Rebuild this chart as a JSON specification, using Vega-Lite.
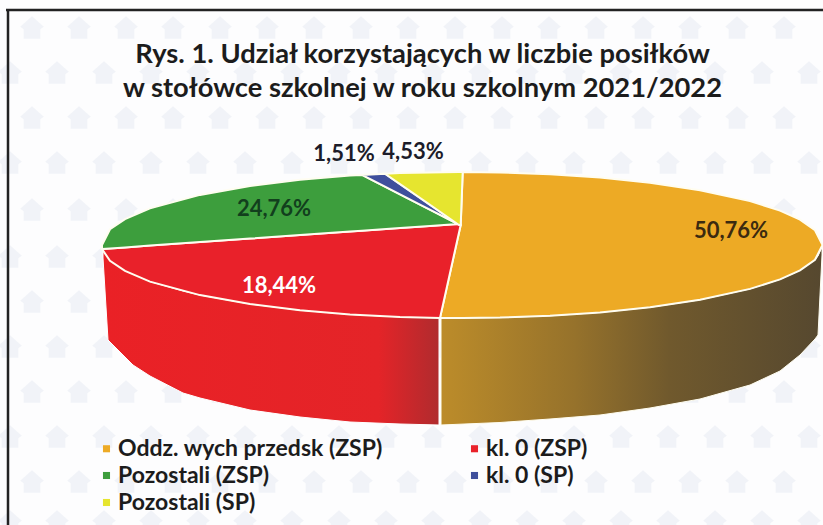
{"$schema":"https://vega.github.io/schema/vega-lite/v6.json","width":823,"height":525,"padding":0,"autosize":{"type":"none"},"background":"#fdfdfe","view":{"stroke":null},
"title":{"text":["Rys. 1. Udział korzystających w liczbie posiłków","w stołówce szkolnej w roku szkolnym 2021/2022"],"anchor":"middle","frame":"group","dx":11,"offset":-102,"font":"Lato","fontSize":27.3,"fontWeight":"bold","lineHeight":34,"color":"#1c1c1c"},
"encoding":{"x":{"field":"x","type":"quantitative","scale":{"domain":[0,823],"nice":false,"zero":false},"axis":null},"y":{"field":"y","type":"quantitative","scale":{"domain":[525,0],"nice":false,"zero":false},"axis":null}},
"layer":[
{"data":{"values":[{"y":28,"xs":[32,79,126,173,220,267,314,361,408,455,502,549,596,643,690,737,784]},{"y":73,"xs":[10,57,104,151,198,245,292,339,386,433,480,527,574,621,668,715,762,809]},{"y":118,"xs":[32,79,126,173,220,267,314,361,408,455,502,549,596,643,690,737,784]},{"y":163,"xs":[10,57,104,151,198,245,292,339,386,433,480,527,574,621,668,715,762,809]},{"y":210,"xs":[32,79,126,173,220,267,314,361,408,455,502,549,596,643,690,737,784]},{"y":257,"xs":[10,57,104,151,198,245,292,339,386,433,480,527,574,621,668,715,762,809]},{"y":302,"xs":[32,79,126,173,220,267,314,361,408,455,502,549,596,643,690,737,784]},{"y":347,"xs":[10,57,104,151,198,245,292,339,386,433,480,527,574,621,668,715,762,809]},{"y":392,"xs":[32,79,126,173,220,267,314,361,408,455,502,549,596,643,690,737,784]},{"y":437,"xs":[10,57,104,151,198,245,292,339,386,433,480,527,574,621,668,715,762,809]},{"y":482,"xs":[32,79,126,173,220,267,314,361,408,455,502,549,596,643,690,737,784]},{"y":522,"xs":[10,57,104,151,198,245,292,339,386,433,480,527,574,621,668,715,762,809]}]},
"transform":[{"flatten":["xs"],"as":["x"]}],
"mark":{"type":"point","filled":true,"shape":"M0,-1 L1,-0.1 L0.7,0.1 L0.7,0.9 L-0.7,0.9 L-0.7,0.1 L-1,-0.1 Z","size":560,"color":"#f0f2f7","opacity":0.9}},
{"data":{"values":[{"x":103,"y":250,"y2":258},{"x":108,"y":258,"y2":340},{"x":133,"y":274,"y2":365},{"x":150,"y":281.6,"y2":376},{"x":183,"y":291,"y2":393},{"x":200,"y":295.1,"y2":398},{"x":250,"y":304,"y2":410},{"x":300,"y":310.2,"y2":417},{"x":350,"y":314.4,"y2":422},{"x":400,"y":316.9,"y2":424},{"x":439,"y":317.9,"y2":425}]},
"mark":{"type":"area","stroke":"#ffffff","strokeWidth":1,"color":{"gradient":"linear","x1":0,"x2":1,"y1":0,"y2":0,"stops":[{"offset":0,"color":"#ea2126"},{"offset":0.82,"color":"#e42428"},{"offset":1,"color":"#b02b2e"}]}},
"encoding":{"y2":{"field":"y2"}}},
{"data":{"values":[{"x":441,"y":318,"y2":425},{"x":500,"y":317.6,"y2":422.5},{"x":550,"y":315.8,"y2":419},{"x":600,"y":312.4,"y2":415},{"x":650,"y":307.3,"y2":408},{"x":700,"y":299.8,"y2":399},{"x":750,"y":288.9,"y2":385},{"x":780,"y":279.4,"y2":371},{"x":800,"y":270.4,"y2":355},{"x":815,"y":259.8,"y2":339},{"x":818,"y":256,"y2":335},{"x":822,"y":247,"y2":255}]},
"mark":{"type":"area","stroke":"#fffdf0","strokeWidth":1,"color":{"gradient":"linear","x1":0,"x2":1,"y1":0,"y2":0,"stops":[{"offset":0,"color":"#bc8c2a"},{"offset":0.35,"color":"#96722b"},{"offset":0.6,"color":"#70592d"},{"offset":1,"color":"#56482f"}]}},
"encoding":{"y2":{"field":"y2"}}},
{"data":{"values":[
{"kategoria":"Oddz. wych przedsk (ZSP)","x":440,"y":317.9,"y2":317.9},{"kategoria":"Oddz. wych przedsk (ZSP)","x":450,"y":273,"y2":318},{"kategoria":"Oddz. wych przedsk (ZSP)","x":460.7,"y":225,"y2":318},{"kategoria":"Oddz. wych przedsk (ZSP)","x":462.7,"y":172,"y2":318},{"kategoria":"Oddz. wych przedsk (ZSP)","x":500,"y":172.4,"y2":317.6},{"kategoria":"Oddz. wych przedsk (ZSP)","x":550,"y":174.2,"y2":315.8},{"kategoria":"Oddz. wych przedsk (ZSP)","x":600,"y":177.6,"y2":312.4},{"kategoria":"Oddz. wych przedsk (ZSP)","x":650,"y":182.7,"y2":307.3},{"kategoria":"Oddz. wych przedsk (ZSP)","x":700,"y":190.2,"y2":299.8},{"kategoria":"Oddz. wych przedsk (ZSP)","x":750,"y":201.1,"y2":288.9},{"kategoria":"Oddz. wych przedsk (ZSP)","x":780,"y":210.6,"y2":279.4},{"kategoria":"Oddz. wych przedsk (ZSP)","x":800,"y":219.6,"y2":270.4},{"kategoria":"Oddz. wych przedsk (ZSP)","x":815,"y":230.2,"y2":259.8},{"kategoria":"Oddz. wych przedsk (ZSP)","x":822.5,"y":245,"y2":245},
{"kategoria":"kl. 0 (ZSP)","x":102,"y":249,"y2":249},{"kategoria":"kl. 0 (ZSP)","x":110,"y":248.4,"y2":260.8},{"kategoria":"kl. 0 (ZSP)","x":125,"y":247.4,"y2":270.9},{"kategoria":"kl. 0 (ZSP)","x":150,"y":245.6,"y2":281.6},{"kategoria":"kl. 0 (ZSP)","x":200,"y":242.1,"y2":295.1},{"kategoria":"kl. 0 (ZSP)","x":250,"y":238.6,"y2":304},{"kategoria":"kl. 0 (ZSP)","x":300,"y":235.1,"y2":310.2},{"kategoria":"kl. 0 (ZSP)","x":350,"y":231.6,"y2":314.4},{"kategoria":"kl. 0 (ZSP)","x":400,"y":228.1,"y2":316.9},{"kategoria":"kl. 0 (ZSP)","x":440,"y":225.3,"y2":317.9},{"kategoria":"kl. 0 (ZSP)","x":450,"y":224.6,"y2":273},{"kategoria":"kl. 0 (ZSP)","x":458,"y":224,"y2":237},{"kategoria":"kl. 0 (ZSP)","x":460.7,"y":225,"y2":225},
{"kategoria":"Pozostali (ZSP)","x":102,"y":245,"y2":249},{"kategoria":"Pozostali (ZSP)","x":110,"y":229.2,"y2":248.4},{"kategoria":"Pozostali (ZSP)","x":125,"y":219.1,"y2":247.4},{"kategoria":"Pozostali (ZSP)","x":150,"y":208.4,"y2":245.6},{"kategoria":"Pozostali (ZSP)","x":200,"y":194.9,"y2":242.1},{"kategoria":"Pozostali (ZSP)","x":250,"y":186,"y2":238.6},{"kategoria":"Pozostali (ZSP)","x":300,"y":179.8,"y2":235.1},{"kategoria":"Pozostali (ZSP)","x":350,"y":175.6,"y2":231.6},{"kategoria":"Pozostali (ZSP)","x":362,"y":174.9,"y2":230.7},{"kategoria":"Pozostali (ZSP)","x":400,"y":194.3,"y2":228.1},{"kategoria":"Pozostali (ZSP)","x":430,"y":209.7,"y2":226},{"kategoria":"Pozostali (ZSP)","x":458,"y":224,"y2":224},
{"kategoria":"kl. 0 (SP)","x":362,"y":174.9,"y2":174.9},{"kategoria":"kl. 0 (SP)","x":385,"y":173.7,"y2":186.7},{"kategoria":"kl. 0 (SP)","x":420,"y":197.8,"y2":204.6},{"kategoria":"kl. 0 (SP)","x":458,"y":224,"y2":224},
{"kategoria":"Pozostali (SP)","x":385,"y":173.7,"y2":173.7},{"kategoria":"Pozostali (SP)","x":400,"y":173.1,"y2":184.1},{"kategoria":"Pozostali (SP)","x":430,"y":172.4,"y2":204.9},{"kategoria":"Pozostali (SP)","x":459,"y":172,"y2":225},{"kategoria":"Pozostali (SP)","x":460.7,"y":172,"y2":225},{"kategoria":"Pozostali (SP)","x":462.7,"y":172,"y2":172}
]},
"mark":{"type":"area","stroke":"#fffdf0","strokeWidth":2},
"encoding":{"y2":{"field":"y2"},"color":{"field":"kategoria","type":"nominal","scale":{"domain":["Oddz. wych przedsk (ZSP)","Pozostali (ZSP)","Pozostali (SP)","kl. 0 (ZSP)","kl. 0 (SP)"],"range":["#edaa25","#3d9e3d","#e6e52f","#e9212a","#3f4f9c"]},
"legend":{"title":null,"orient":"none","legendX":95,"legendY":437,"columns":2,"columnPadding":80,"rowPadding":3,"symbolType":"square","symbolSize":50,"symbolStrokeWidth":0,"labelFont":"Lato","labelFontSize":23,"labelFontWeight":"bold","labelColor":"#1c1c1c","labelLimit":320,"labelOffset":0}}}},
{"data":{"values":[{"etykieta":"50,76%","wartosc":50.76,"x":731,"y":231,"kategoria":"Oddz. wych przedsk (ZSP)"},{"etykieta":"18,44%","wartosc":18.44,"x":279,"y":286,"kategoria":"kl. 0 (ZSP)"},{"etykieta":"24,76%","wartosc":24.76,"x":274,"y":209,"kategoria":"Pozostali (ZSP)"},{"etykieta":"1,51%","wartosc":1.51,"x":344,"y":154,"kategoria":"kl. 0 (SP)"},{"etykieta":"4,53%","wartosc":4.53,"x":413,"y":152,"kategoria":"Pozostali (SP)"}]},
"mark":{"type":"text","font":"Lato","fontSize":22,"fontWeight":"bold","align":"center","baseline":"middle"},
"encoding":{"text":{"field":"etykieta"},"color":{"condition":[{"test":"datum.kategoria==='kl. 0 (ZSP)'","value":"#ffffff"},{"test":"datum.kategoria==='Pozostali (ZSP)'","value":"#123f1d"},{"test":"datum.kategoria==='Oddz. wych przedsk (ZSP)'","value":"#3b2a10"}],"value":"#1c1c2a"}}},
{"data":{"values":[{"x":8,"y":10,"y2":525}]},"mark":{"type":"rule","color":"#222222","strokeWidth":2.5},"encoding":{"y2":{"field":"y2"}}},
{"data":{"values":[{"x":6,"y":10,"x2":823}]},"mark":{"type":"rule","color":"#222222","strokeWidth":2.5},"encoding":{"x2":{"field":"x2"}}}
]}
